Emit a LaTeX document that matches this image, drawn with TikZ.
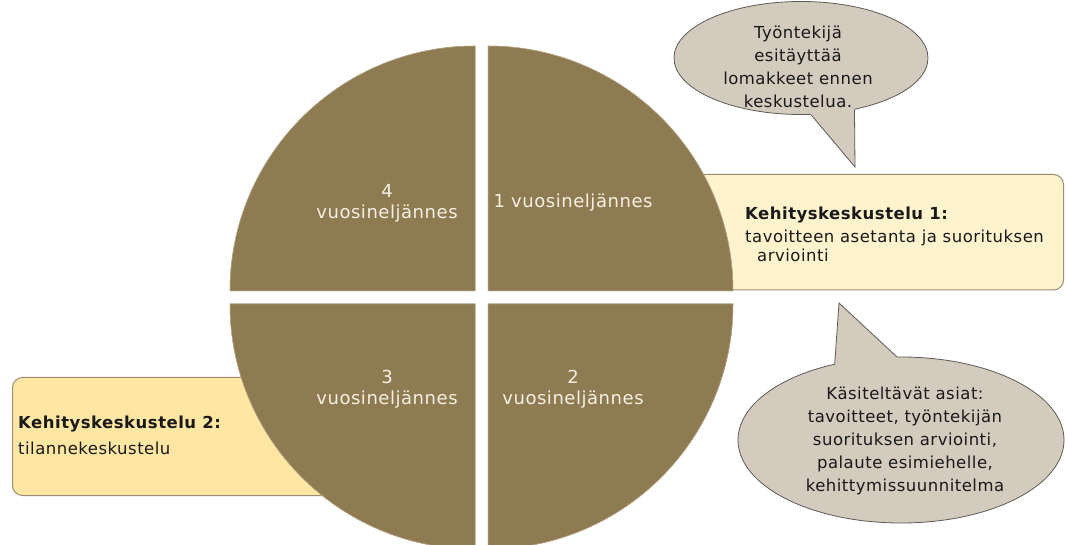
\documentclass[tikz,border=0pt]{standalone}
\usepackage{fontspec}
\setmainfont{DejaVu Sans}[LetterSpace=3]
\usetikzlibrary{shapes.geometric}
\definecolor{quad}{RGB}{143,123,82}
\definecolor{quadedge}{RGB}{185,170,140}
\definecolor{boxone}{RGB}{255,243,206}
\definecolor{boxtwo}{RGB}{255,231,163}
\definecolor{boxedge}{RGB}{155,140,115}
\definecolor{bubfill}{RGB}{212,203,191}
\definecolor{bubedge}{RGB}{95,90,85}
\definecolor{qtext}{RGB}{245,240,228}
\definecolor{btext}{RGB}{25,25,25}
\begin{document}
\begin{tikzpicture}[x=1pt,y=1pt,
  quadrant/.style={fill=quad, draw=quadedge, line width=0.5pt},
  qlabel/.style={text=qtext, font=\fontsize{18}{21}\selectfont, align=center, inner sep=0},
  infobox/.style={draw=boxedge, line width=1pt, rounded corners=10pt, inner sep=0},
  bubble/.style={ellipse, fill=bubfill, draw=bubedge, line width=0.8pt, inner sep=0},
  bubtail/.style={draw=bubedge, line width=0.8pt},
  btxt/.style={text=btext, font=\fontsize{16.5}{23}\selectfont, align=center, inner sep=0},
  ktxt/.style={text=btext, font=\fontsize{16.5}{23}\selectfont, inner sep=0, anchor=base west},
]
\useasboundingbox (0,0) rectangle (1066,544);
\clip (0,0) rectangle (1066,544);

% info boxes
\node[infobox, fill=boxone, minimum width=373, minimum height=115.5, anchor=south west] (k1) at (690,253.5) {};
\node[infobox, fill=boxtwo, minimum width=330, minimum height=118, anchor=south west] (k2) at (12,48) {};

% quadrants
\fill[quadrant] (475,253) -- (230,253) arc[start angle=180, end angle=90, radius=245] -- cycle;
\fill[quadrant] (488,253) -- (488,498) arc[start angle=90, end angle=0, radius=245] -- cycle;
\fill[quadrant] (475,240) -- (230,240) arc[start angle=180, end angle=270, radius=245] -- cycle;
\fill[quadrant] (488,240) -- (733,240) arc[start angle=0, end angle=-90, radius=245] -- cycle;
\draw[quadrant] (475,253) -- (230,253) arc[start angle=180, end angle=90, radius=245] -- cycle;
\draw[quadrant] (488,253) -- (488,498) arc[start angle=90, end angle=0, radius=245] -- cycle;
\draw[quadrant] (475,240) -- (230,240) arc[start angle=180, end angle=270, radius=245] -- cycle;
\draw[quadrant] (488,240) -- (733,240) arc[start angle=0, end angle=-90, radius=245] -- cycle;

\node[qlabel] (q4) at (387,341) {4\\vuosineljännes};
\node[qlabel] (q1) at (573,341) {1 vuosineljännes};
\node[qlabel] (q3) at (387,155) {3\\vuosineljännes};
\node[qlabel] (q2) at (573,155) {2\\vuosineljännes};

% speech bubbles
\node[bubble, minimum width=254, minimum height=113] (b1) at (801,486) {};
\coordinate (t1) at (855,377);
\fill[bubfill] (b1.-80) -- (t1) -- (b1.-44) -- (b1.center) -- cycle;
\draw[bubtail] (b1.-80) -- (t1) -- (b1.-44);

\node[bubble, minimum width=326, minimum height=166] (b2) at (901,104) {};
\coordinate (t2) at (839,241);
\fill[bubfill] (b2.131.7) -- (t2) -- (b2.93.5) -- (b2.center) -- cycle;
\draw[bubtail] (b2.131.7) -- (t2) -- (b2.93.5);

% texts
\node[btxt] (b1t) at (798,477) {Työntekijä\\esitäyttää\\lomakkeet ennen\\keskustelua.};
\node[btxt] (b2t) at (905,103) {Käsiteltävät asiat:\\tavoitteet, työntekijän\\suorituksen arviointi,\\palaute esimiehelle,\\kehittymissuunnitelma};

\node[ktxt] (k1a) at (745,324) {\bfseries Kehityskeskustelu 1:};
\node[ktxt] (k1b) at (745,301) {tavoitteen asetanta ja suorituksen};
\node[ktxt] (k1c) at (757,282) {arviointi};

\node[ktxt] (k2a) at (18,115) {\bfseries Kehityskeskustelu 2:};
\node[ktxt] (k2b) at (18,89) {tilannekeskustelu};
\end{tikzpicture}
\end{document}
